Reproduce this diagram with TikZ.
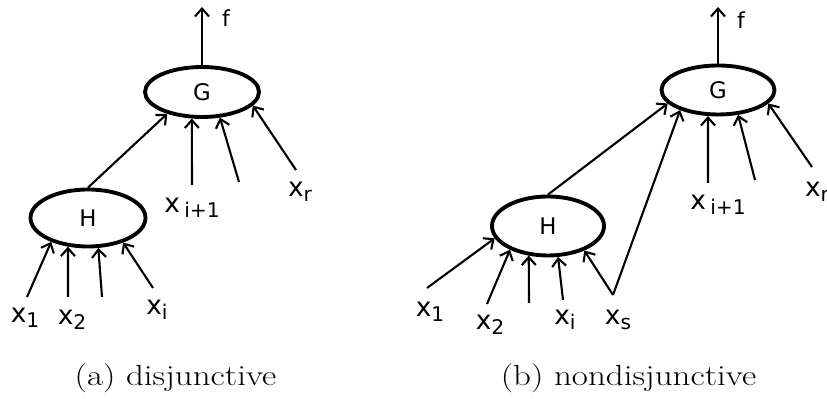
\documentclass[tikz,border=0pt]{standalone}
\usepackage{fontspec}
\newfontfamily\labelfont{DejaVu Sans}
\usetikzlibrary{arrows.meta,shapes.geometric}
\newcommand{\xsub}[1]{\raisebox{-3pt}{\fontsize{11.5}{12}\selectfont#1}}
\newcommand{\capt}[1]{\scalebox{1.2}[1]{#1}}

\begin{document}
\begin{tikzpicture}[x=1cm,y=1cm,
 gate/.style={ellipse,draw,line width=2.2pt,inner sep=0pt,font=\labelfont\fontsize{13}{15}\selectfont},
 wire/.style={-{Straight Barb[length=4.5pt,width=8pt]},line width=1.2pt},
 var/.style={inner sep=0pt,font=\labelfont\fontsize{15}{17}\selectfont},
 outlbl/.style={inner sep=0pt,font=\labelfont\fontsize{12.5}{14}\selectfont},
 subcap/.style={inner sep=0pt,anchor=base,font=\fontsize{16.6}{20}\selectfont}]
\path[use as bounding box] (0,0) rectangle (16.54,7.98);

% (a) disjunctive: H feeds G, the inputs are split
\node[gate,minimum width=2.28cm,minimum height=1.0cm] (Ga) at (4.04,6.14) {G};
\node[gate,minimum width=2.30cm,minimum height=1.14cm] (Ha) at (1.76,3.62) {H};
\coordinate (fa) at (4.04,7.84);
\draw[wire] (Ga.north)--(fa);
\node[outlbl] (la) at (4.52,7.62) {f};
\draw[wire] (Ha.north)--(Ga.212);
\foreach \nm/\x/\y/\ang in {ax1/.54/2.04/213,ax2/1.36/2.04/235,ax3/2.04/2.04/289,axi/3.06/2.22/325}
 {\coordinate (\nm) at (\x,\y); \draw[wire] (\nm)--(Ha.\ang);}
\foreach \nm/\x/\y/\ang in {axj/3.84/4.28/249,axk/4.78/4.34/305,axr/5.92/4.58/345}
 {\coordinate (\nm) at (\x,\y); \draw[wire] (\nm)--(Ga.\ang);}
\node[var] (lx1a) at (.50,1.62) {x\xsub{1}};
\node[var] (lx2a) at (1.44,1.58) {x\xsub{2}};
\node[var] (lxia) at (3.14,1.78) {x\xsub{i}};
\node[var] (lxja) at (3.84,3.82) {x\,\xsub{i+1}};
\node[var] (lxra) at (6.0,4.14) {x\xsub{r}};
\node[subcap] (capa) at (3.51,.26) {\capt{(a) disjunctive}};

% (b) nondisjunctive: x_s goes to both H and G
\node[gate,minimum width=2.26cm,minimum height=.98cm] (Gb) at (14.36,6.18) {G};
\node[gate,minimum width=2.24cm,minimum height=1.18cm] (Hb) at (10.96,3.46) {H};
\coordinate (fb) at (14.36,7.84);
\draw[wire] (Gb.north)--(fb);
\node[outlbl] (lb) at (14.82,7.58) {f};
\draw[wire] (Hb.north)--(Gb.195);
\foreach \nm/\x/\y/\ang in {bx1/8.54/2.22/193,bx2/9.74/1.90/212,bx3/10.58/1.92/237,bxi/11.26/1.98/288}
 {\coordinate (\nm) at (\x,\y); \draw[wire] (\nm)--(Hb.\ang);}
\coordinate (bxs) at (12.26,2.08);
\draw[wire] (bxs)--(Hb.326);
\draw[wire] (bxs)--(Gb.208);
\foreach \nm/\x/\y/\ang in {bxj/14.16/4.32/249,bxk/15.10/4.38/309,bxr/16.24/4.64/345}
 {\coordinate (\nm) at (\x,\y); \draw[wire] (\nm)--(Gb.\ang);}
\node[var] (lx1b) at (8.60,1.74) {x\xsub{1}};
\node[var] (lx2b) at (9.80,1.48) {x\xsub{2}};
\node[var] (lxib) at (11.30,1.58) {x\xsub{i}};
\node[var] (lxsb) at (12.36,1.58) {x\xsub{s}};
\node[var] (lxjb) at (14.36,3.88) {x\,\xsub{i+1}};
\node[var] (lxrb) at (16.34,4.14) {x\xsub{r}};
\node[subcap] (capb) at (12.57,.26) {\capt{(b) nondisjunctive}};
\end{tikzpicture}
\end{document}
